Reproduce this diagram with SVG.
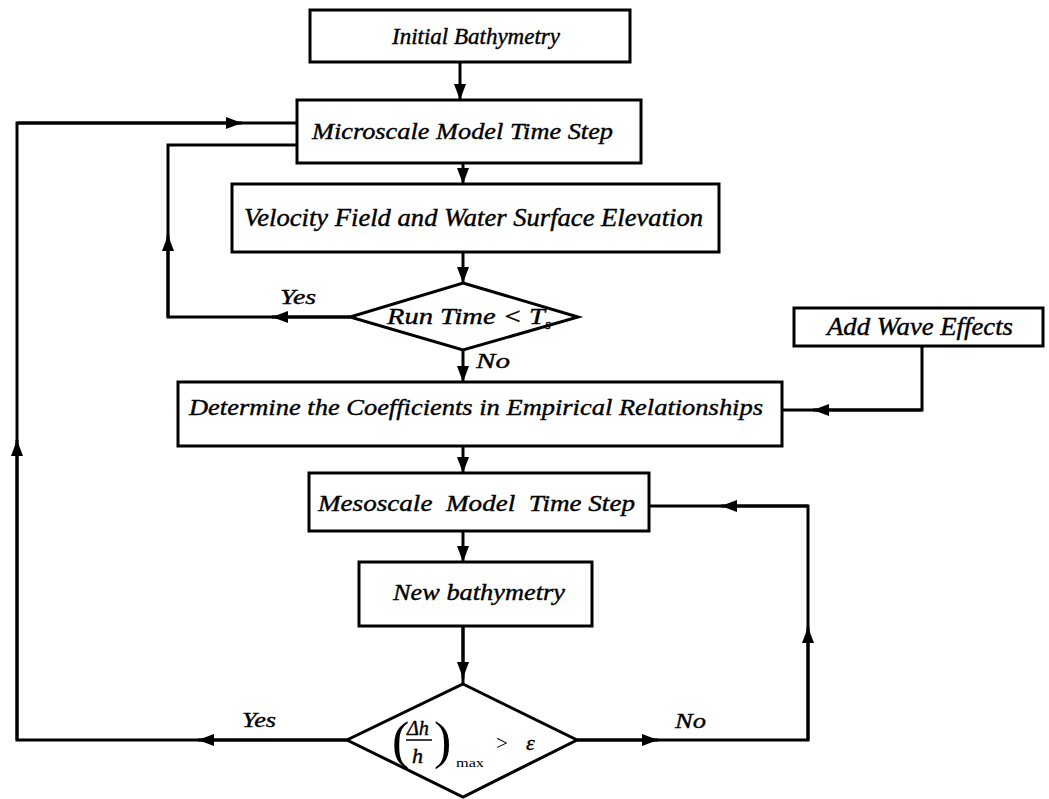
<svg xmlns="http://www.w3.org/2000/svg" width="1049" height="799" viewBox="0 0 1049 799">
<defs>
<style>
.box{fill:#fff;stroke:#000;stroke-width:3}
.ln{fill:none;stroke:#000;stroke-width:3}
.t{font-family:"Liberation Serif","Times New Roman",serif;font-style:italic;font-size:24px;fill:#000;stroke:#000;stroke-width:0.4;white-space:pre}
.s{font-size:22px}
.up{font-family:"Liberation Serif","Times New Roman",serif;font-style:normal;fill:#000}
</style>
<marker id="ah" viewBox="0 0 16 12" markerWidth="16" markerHeight="12" refX="16" refY="6" orient="auto" markerUnits="userSpaceOnUse">
<path d="M0,0 L16,6 L0,12 Z" fill="#000"/>
</marker>
</defs>
<rect width="1049" height="799" fill="#fff"/>

<g id="connectors">
<line class="ln" x1="460" y1="62" x2="460" y2="100" marker-end="url(#ah)"/>
<line class="ln" x1="463" y1="163" x2="463" y2="184" marker-end="url(#ah)"/>
<line class="ln" x1="463" y1="252" x2="463" y2="283" marker-end="url(#ah)"/>
<line class="ln" x1="463" y1="350" x2="463" y2="382" marker-end="url(#ah)"/>
<line class="ln" x1="463" y1="446" x2="463" y2="473" marker-end="url(#ah)"/>
<line class="ln" x1="463" y1="531" x2="463" y2="562" marker-end="url(#ah)"/>
<line class="ln" x1="463" y1="626" x2="463" y2="684"/>
<line class="ln" x1="463" y1="626" x2="463" y2="678" marker-end="url(#ah)"/>
<!-- inner Yes loop -->
<path class="ln" d="M350,317 H168 V145 H297"/>
<path class="ln" d="M350,317 H272" marker-end="url(#ah)"/>
<path class="ln" d="M168,317 V235" marker-end="url(#ah)"/>
<!-- outer Yes loop -->
<path class="ln" d="M347,740 H17 V123 H297"/>
<path class="ln" d="M347,740 H198" marker-end="url(#ah)"/>
<path class="ln" d="M17,740 V440" marker-end="url(#ah)"/>
<path class="ln" d="M17,123 H242" marker-end="url(#ah)"/>
<!-- wave effects -->
<path class="ln" d="M922,346 V410 H782"/>
<path class="ln" d="M922,410 H813" marker-end="url(#ah)"/>
<!-- No loop -->
<path class="ln" d="M577,740 H808 V506 H649"/>
<path class="ln" d="M577,740 H658" marker-end="url(#ah)"/>
<path class="ln" d="M808,740 V627" marker-end="url(#ah)"/>
<path class="ln" d="M808,506 H721" marker-end="url(#ah)"/>
<text class="t s" x="280" y="304" textLength="36" lengthAdjust="spacingAndGlyphs">Yes</text>
<text class="t s" x="476" y="368" textLength="34" lengthAdjust="spacingAndGlyphs">No</text>
<text class="t s" x="242" y="727" textLength="34" lengthAdjust="spacingAndGlyphs">Yes</text>
<text class="t s" x="675" y="728" textLength="31" lengthAdjust="spacingAndGlyphs">No</text>
</g>

<g id="initial">
<rect class="box" x="310" y="10" width="320" height="52"/>
<text class="t" x="392" y="44" style="font-size:23px" textLength="168" lengthAdjust="spacingAndGlyphs">Initial Bathymetry</text>
</g>
<g id="microscale">
<rect class="box" x="297" y="100" width="344" height="63"/>
<text class="t" x="312" y="139" textLength="301" lengthAdjust="spacingAndGlyphs">Microscale Model Time Step</text>
</g>
<g id="velocity">
<rect class="box" x="232" y="184" width="487" height="68"/>
<text class="t" x="244" y="226" style="font-size:25px" textLength="459" lengthAdjust="spacingAndGlyphs">Velocity Field and Water Surface Elevation</text>
</g>
<g id="runtime">
<polygon class="box" points="463,283 578,317 463,350 350,317"/>
<text class="t" x="387" y="324" textLength="158" lengthAdjust="spacingAndGlyphs">Run Time &lt; T</text>
<text class="t" x="545" y="329" style="font-size:15px">s</text>
</g>
<g id="wave">
<rect class="box" x="794" y="308" width="249" height="38"/>
<text class="t" x="827" y="335" style="font-size:25px" textLength="186" lengthAdjust="spacingAndGlyphs">Add Wave Effects</text>
</g>
<g id="determine">
<rect class="box" x="178" y="382" width="604" height="64"/>
<text class="t" x="189" y="415" textLength="574" lengthAdjust="spacingAndGlyphs">Determine the Coefficients in Empirical Relationships</text>
</g>
<g id="mesoscale">
<rect class="box" x="309" y="473" width="340" height="58"/>
<text class="t" x="318" y="511" textLength="317" lengthAdjust="spacingAndGlyphs">Mesoscale  Model  Time Step</text>
</g>
<g id="newbathy">
<rect class="box" x="359" y="562" width="233" height="64"/>
<text class="t" x="393" y="600" textLength="172" lengthAdjust="spacingAndGlyphs">New bathymetry</text>
</g>
<g id="check">
<polygon class="box" points="463,684 577,740 463,797 347,740"/>
<text class="up" x="392" y="758" font-size="52">(</text>
<text class="t s" x="407" y="735" textLength="22" lengthAdjust="spacingAndGlyphs">Δh</text>
<line x1="406" y1="740" x2="432" y2="740" stroke="#000" stroke-width="1.5"/>
<text class="t s" x="412" y="763">h</text>
<text class="up" x="434" y="758" font-size="52">)</text>
<text class="up" x="456" y="767" font-size="13" textLength="28" lengthAdjust="spacingAndGlyphs">max</text>
<text class="up" x="496" y="750" font-size="21">&gt;</text>
<text class="t s" x="526" y="750">ε</text>
</g>
</svg>
